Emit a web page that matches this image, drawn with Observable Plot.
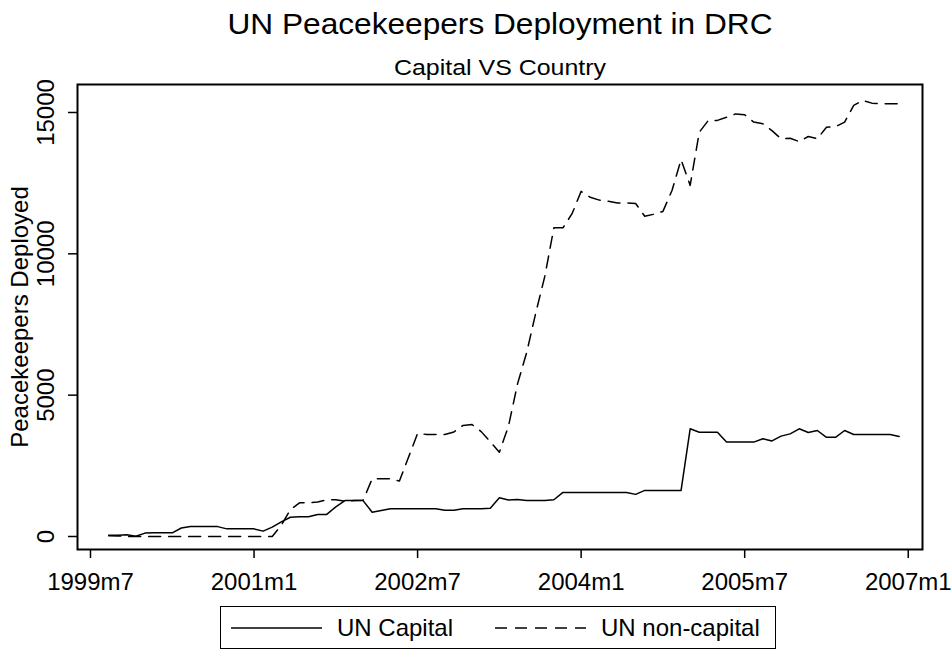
<!DOCTYPE html>
<html><head><meta charset="utf-8">
<script src="https://cdn.jsdelivr.net/npm/d3@7"></script>
<script src="https://cdn.jsdelivr.net/npm/@observablehq/plot@0.6"></script>
<style>
html,body{margin:0;padding:0;background:#fff;}
#wrap{position:relative;width:952px;height:653px;font-family:"Liberation Sans",Arial,sans-serif;overflow:hidden;}
#legend{position:absolute;left:220px;top:606px;width:554px;height:41px;border:1px solid #000;background:#fff;}
.item{position:absolute;top:0;height:41px;display:flex;align-items:center;font-size:24px;color:#000;white-space:nowrap;}
.item svg{display:block;}
</style></head><body>
<div id="wrap"><div id="chart"></div><div id="legend"></div></div>
<script>
const months = [
  "1999m9","1999m10","1999m11","1999m12",
  "2000m1","2000m2","2000m3","2000m4","2000m5","2000m6","2000m7","2000m8","2000m9","2000m10","2000m11","2000m12",
  "2001m1","2001m2","2001m3","2001m4","2001m5","2001m6","2001m7","2001m8","2001m9","2001m10","2001m11","2001m12",
  "2002m1","2002m2","2002m3","2002m4","2002m5","2002m6","2002m7","2002m8","2002m9","2002m10","2002m11","2002m12",
  "2003m1","2003m2","2003m3","2003m4","2003m5","2003m6","2003m7","2003m8","2003m9","2003m10","2003m11","2003m12",
  "2004m1","2004m2","2004m3","2004m4","2004m5","2004m6","2004m7","2004m8","2004m9","2004m10","2004m11","2004m12",
  "2005m1","2005m2","2005m3","2005m4","2005m5","2005m6","2005m7","2005m8","2005m9","2005m10","2005m11","2005m12",
  "2006m1","2006m2","2006m3","2006m4","2006m5","2006m6","2006m7","2006m8","2006m9","2006m10","2006m11","2006m12"
];
const unCapital = [
  40,40,60,10,
  120,130,130,130,300,350,350,350,350,270,270,270,
  270,190,330,520,680,700,700,780,780,1050,1270,1270,
  1270,860,920,980,980,980,980,980,980,930,930,980,
  980,980,1000,1370,1290,1310,1270,1270,1270,1300,1560,1560,
  1560,1560,1560,1560,1560,1560,1490,1630,1630,1630,1630,1630,
  3810,3690,3690,3690,3340,3340,3340,3340,3460,3380,3550,3630,
  3810,3680,3750,3510,3510,3750,3610,3610,3610,3610,3610,3540
];
const unNonCapital = [
  30,20,0,0,
  0,0,0,0,0,0,0,0,0,0,0,0,
  0,0,0,400,950,1190,1190,1220,1300,1300,1250,1270,
  1280,2040,2040,2040,1960,2800,3650,3610,3610,3610,3700,3930,
  3960,3710,3350,2980,3900,5400,6500,7900,9200,10920,10920,11420,
  12210,12000,11900,11860,11800,11800,11780,11330,11400,11500,12240,13330,
  12420,14300,14720,14720,14830,14950,14920,14660,14600,14360,14070,14090,
  13970,14150,14070,14480,14500,14660,15250,15430,15330,15310,15310,15310
];
const xTicks = ["1999m7","2001m1","2002m7","2004m1","2005m7","2007m1"];
const yTicks = [0, 5000, 10000, 15000];
const titleText = "UN Peacekeepers Deployment in DRC";
const subtitleText = "Capital VS Country";
const yTitle = "Peacekeepers Deployed";
const seriesNames = ["UN Capital", "UN non-capital"];

const tm = s => { const [y, m] = s.split("m").map(Number); return (y - 1960) * 12 + m - 1; };
const fmt = v => `${1960 + Math.floor(v / 12)}m${(v % 12) + 1}`;
const rows = months.map((m, i) => ({t: tm(m), cap: unCapital[i], non: unNonCapital[i]}));

const chart = Plot.plot({
  width: 952, height: 653,
  marginLeft: 77, marginRight: 30, marginTop: 84, marginBottom: 104,
  style: {fontFamily: "'Liberation Sans', Arial, sans-serif", background: "#fff", color: "#000"},
  x: {domain: [tm("1999m7") - 1.43, tm("2007m1") + 1.57]},
  y: {domain: [-460, 15990]},
  marks: [
    Plot.line(rows, {x: "t", y: "non", stroke: "#000", strokeWidth: 1.5, strokeDasharray: "12,8"}),
    Plot.line(rows, {x: "t", y: "cap", stroke: "#000", strokeWidth: 1.5}),
    Plot.frame({stroke: "#000", strokeWidth: 2}),
    Plot.axisX(xTicks.map(tm), {tickFormat: fmt, tickSize: 9, tickPadding: 14, fontSize: 24, strokeWidth: 1.5, label: null}),
    Plot.axisY(yTicks, {tickFormat: d => String(d), tickSize: 9, tickPadding: 15, tickRotate: -90, fontSize: 24, strokeWidth: 1.5, label: null}),
    Plot.text([yTitle], {frameAnchor: "left", text: d => d, rotate: -90, dx: -50, textAnchor: "middle", lineAnchor: "bottom", fontSize: 24, fill: "#000"}),
    Plot.text([titleText], {frameAnchor: "top", text: d => d, dy: -51, textAnchor: "middle", lineAnchor: "bottom", fontSize: 29, fill: "#000"}),
    Plot.text([subtitleText], {frameAnchor: "top", text: d => d, dy: -10, textAnchor: "middle", lineAnchor: "bottom", fontSize: 22.5, fill: "#000"})
  ]
});
// slight horizontal stretch of title/subtitle, as in the reference rendering
for (const t of chart.querySelectorAll("text")) {
  if (t.textContent === titleText) { t.setAttribute("textLength", 545); t.setAttribute("lengthAdjust", "spacingAndGlyphs"); }
  if (t.textContent === subtitleText) { t.setAttribute("textLength", 212); t.setAttribute("lengthAdjust", "spacingAndGlyphs"); }
}
document.getElementById("chart").appendChild(chart);

// legend
const legend = document.getElementById("legend");
const items = [
  {name: seriesNames[0], dash: null, lineLeft: 10, textLeft: 116},
  {name: seriesNames[1], dash: "12,8", lineLeft: 274, textLeft: 380}
];
for (const it of items) {
  const sw = document.createElement("div");
  sw.className = "item";
  sw.style.left = it.lineLeft + "px";
  const svg = d3.create("svg").attr("width", 91).attr("height", 6);
  svg.append("line").attr("x1", 0).attr("x2", 91).attr("y1", 3).attr("y2", 3)
    .attr("stroke", "#000").attr("stroke-width", 1.5)
    .attr("stroke-dasharray", it.dash);
  sw.appendChild(svg.node());
  legend.appendChild(sw);
  const tx = document.createElement("div");
  tx.className = "item";
  tx.style.left = it.textLeft + "px";
  tx.textContent = it.name;
  legend.appendChild(tx);
}
</script>
</body></html>
